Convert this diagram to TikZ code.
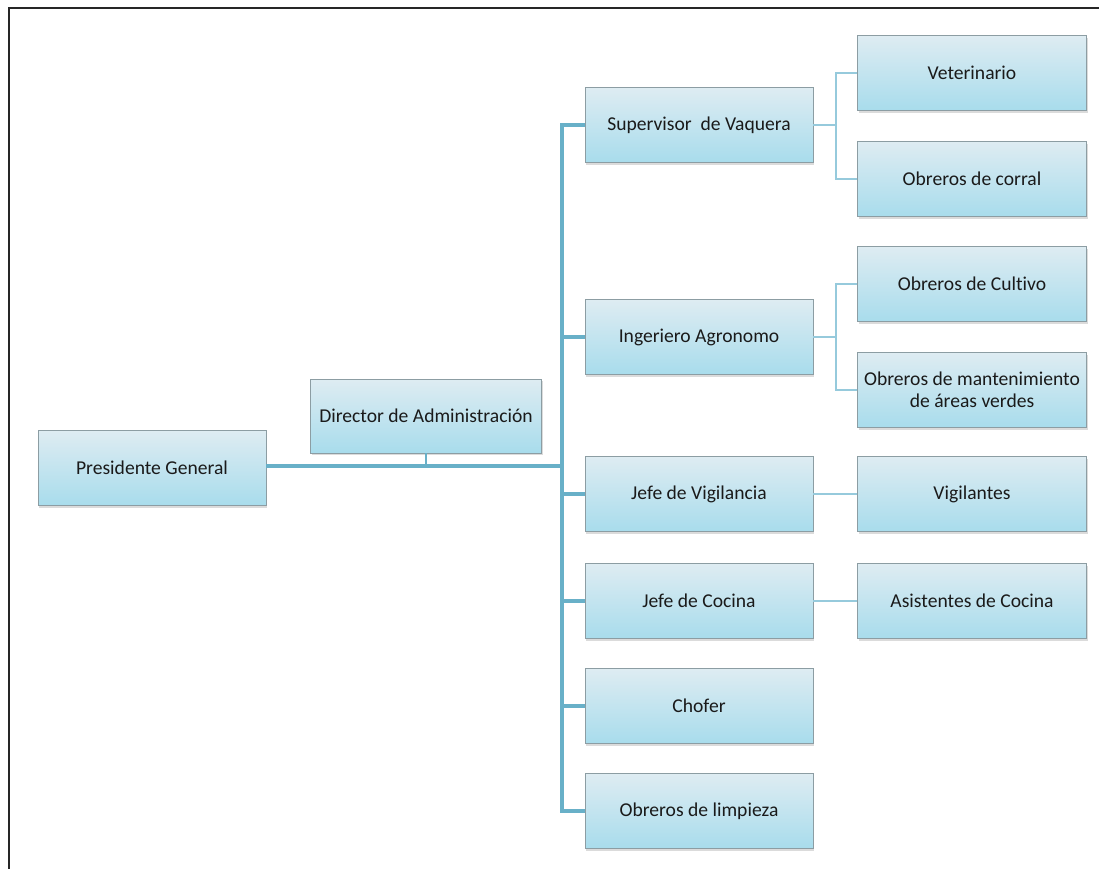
\documentclass[tikz,border=0pt]{standalone}
\usepackage{fontspec}
\setmainfont[Ligatures={NoCommon}]{Carlito}
\usetikzlibrary{shadows}
\definecolor{boxtop}{RGB}{222,236,242}
\definecolor{boxbot}{RGB}{168,220,236}
\definecolor{boxline}{RGB}{140,157,163}
\definecolor{trunkc}{RGB}{104,176,200}
\definecolor{branchc}{RGB}{150,202,220}
\definecolor{txt}{RGB}{26,26,26}
\begin{document}
\begin{tikzpicture}[x=1pt,y=-1pt,
  orgbox/.style={rectangle, draw=boxline, line width=0.8pt,
    top color=boxtop, bottom color=boxbot,
    minimum width=229pt, minimum height=75pt, inner sep=0pt, align=center,
    text=txt, font=\fontsize{19.6}{22}\selectfont,
    drop shadow={opacity=0.28, shadow xshift=1.2pt, shadow yshift=-2.2pt}},
  trunk/.style={draw=trunkc, line width=3.6pt},
  branch/.style={draw=branchc, line width=2.8pt}]
\useasboundingbox (0,0) rectangle (1099,869);
\fill[white] (0,0) rectangle (1099,869);
\draw[line width=1.6pt, draw=black!85] (9,869) -- (9,8) -- (1099,8);

\coordinate (J) at (562,466);
\coordinate (B) at (836,0);

% nodes
\node[orgbox, minimum width=228pt] (pres) at (152,468) {Presidente General};
\node[orgbox, minimum width=231pt, minimum height=74pt] (dir) at (426,416) {Director de Administración};

\node[orgbox, minimum width=228pt] (sup)  at (699,125) {Supervisor\ \ de Vaquera};
\node[orgbox, minimum width=228pt] (ing)  at (699,337) {Ingeriero Agronomo};
\node[orgbox, minimum width=228pt] (vig)  at (699,494) {Jefe de Vigilancia};
\node[orgbox, minimum width=228pt] (coc)  at (699,601) {Jefe de Cocina};
\node[orgbox, minimum width=228pt] (cho)  at (699,706) {Chofer};
\node[orgbox, minimum width=228pt] (limp) at (699,811) {Obreros de limpieza};

\node[orgbox] (vet)  at (972,73)  {Veterinario};
\node[orgbox] (corr) at (972,179) {Obreros de corral};
\node[orgbox] (cult) at (972,284) {Obreros de Cultivo};
\node[orgbox] (mant) at (972,390) {Obreros de mantenimiento\\de áreas verdes};
\node[orgbox] (vigs) at (972,494) {Vigilantes};
\node[orgbox] (asis) at (972,601) {Asistentes de Cocina};

% trunk connectors
\draw[trunk] (pres.east |- J) -- (J);
\draw[trunk, line width=2.6pt] (dir.south) -- (dir.south |- J);
\draw[trunk] (sup.west) -- (J |- sup.west) -- (J |- limp.west) -- (limp.west);
\draw[trunk] (J |- ing.west) -- (ing.west);
\draw[trunk] (J |- vig.west) -- (vig.west);
\draw[trunk] (J |- coc.west) -- (coc.west);
\draw[trunk] (J |- cho.west) -- (cho.west);

% branch connectors
\draw[branch] (sup.east) -- (B |- sup.east);
\draw[branch] (vet.west) -- (B |- vet.west) -- (B |- corr.west) -- (corr.west);
\draw[branch] (ing.east) -- (B |- ing.east);
\draw[branch] (cult.west) -- (B |- cult.west) -- (B |- mant.west) -- (mant.west);
\draw[branch] (vig.east) -- (vigs.west);
\draw[branch] (coc.east) -- (asis.west);
\end{tikzpicture}
\end{document}
